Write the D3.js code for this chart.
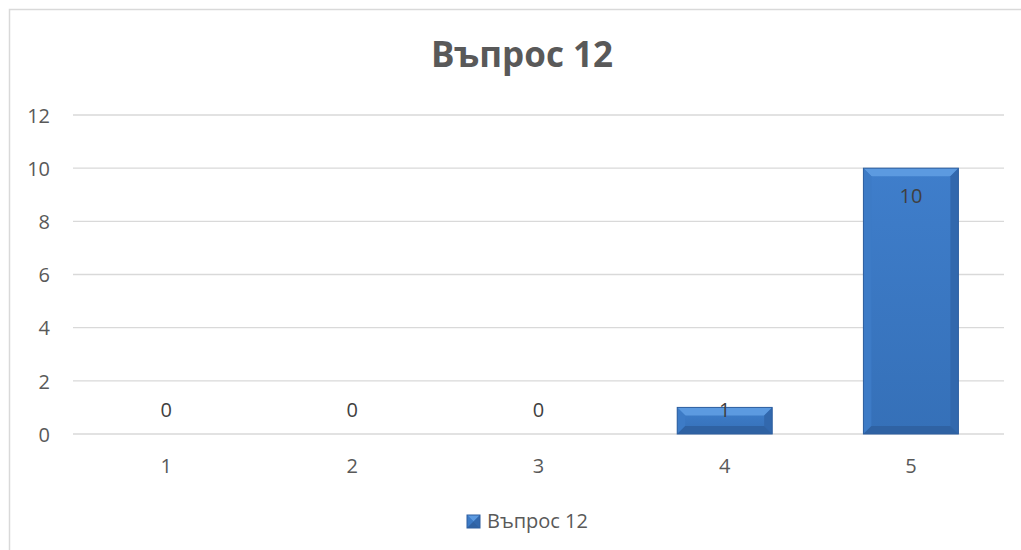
<!DOCTYPE html>
<html>
<head>
<meta charset="utf-8">
<script src="https://cdn.jsdelivr.net/npm/d3@7"></script>
<style>
  body { margin: 0; background: #fff; }
  text { font-family: "Open Sans", "Noto Sans", sans-serif; }
</style>
</head>
<body>
<div id="chart"></div>
<script>
var categories = ["1", "2", "3", "4", "5"];
var values = [0, 0, 0, 1, 10];
var yTicks = [0, 2, 4, 6, 8, 10, 12];
var seriesName = "Въпрос 12";
var title = "Въпрос 12";

var svgWidth = 1021;
var svgHeight = 550;
var margin = { top: 115, right: 17, bottom: 116, left: 73 };
var width = svgWidth - margin.left - margin.right;
var height = svgHeight - margin.top - margin.bottom;

var svg = d3.select("#chart")
  .append("svg")
  .attr("width", svgWidth)
  .attr("height", svgHeight);

// chart area border
svg.append("rect")
  .attr("x", 9.5).attr("y", 9.5)
  .attr("width", 1030).attr("height", 560)
  .attr("fill", "none")
  .attr("stroke", "#d9d9d9")
  .attr("stroke-width", 1.5);

var g = svg.append("g")
  .attr("transform", `translate(${margin.left}, ${margin.top})`);

var xScale = d3.scaleBand().domain(categories).range([0, width]).paddingInner(0.49).paddingOuter(0.245);
var yScale = d3.scaleLinear().domain([0, 12]).range([height, 0]);

// gridlines
g.selectAll(".grid")
  .data(yTicks)
  .enter()
  .append("line")
  .attr("x1", 0).attr("x2", width)
  .attr("y1", d => yScale(d)).attr("y2", d => yScale(d))
  .attr("stroke", "#d9d9d9")
  .attr("stroke-width", 1.3);

// y axis labels
var yAxis = d3.axisLeft(yScale).tickValues(yTicks).tickSize(0).tickPadding(23);
g.append("g").call(yAxis)
  .call(a => a.select(".domain").remove())
  .selectAll("text")
  .attr("font-size", 20)
  .attr("dy", "0.36em")
  .attr("fill", "#595959")
  .attr("font-family", "Open Sans, sans-serif");

// x axis labels
var xAxis = d3.axisBottom(xScale).tickSize(0);
g.append("g").attr("transform", `translate(0, ${height})`).call(xAxis)
  .call(a => a.select(".domain").remove())
  .selectAll("text")
  .attr("y", 39)
  .attr("dy", null)
  .attr("font-size", 20)
  .attr("fill", "#595959")
  .attr("font-family", "Open Sans, sans-serif");

// bars with a bevel look
var defs = svg.append("defs");
var grad = defs.append("linearGradient").attr("id", "barFill")
  .attr("x1", 0).attr("y1", 0).attr("x2", 0).attr("y2", 1);
grad.append("stop").attr("offset", "0%").attr("stop-color", "#3f7ecb");
grad.append("stop").attr("offset", "100%").attr("stop-color", "#3570b8");

function bevelBar(sel, x, y, w, h) {
  var b = Math.min(8, h / 2, w / 2);
  sel.append("rect").attr("x", x).attr("y", y).attr("width", w).attr("height", h)
    .attr("fill", "url(#barFill)");
  // top
  sel.append("polygon").attr("points", [[x, y], [x + w, y], [x + w - b, y + b], [x + b, y + b]].join(" "))
    .attr("fill", "#5c9ae0");
  // left
  sel.append("polygon").attr("points", [[x, y], [x + b, y + b], [x + b, y + h - b], [x, y + h]].join(" "))
    .attr("fill", "#3d7bc6");
  // right
  sel.append("polygon").attr("points", [[x + w, y], [x + w - b, y + b], [x + w - b, y + h - b], [x + w, y + h]].join(" "))
    .attr("fill", "#3268ad");
  // bottom
  sel.append("polygon").attr("points", [[x, y + h], [x + b, y + h - b], [x + w - b, y + h - b], [x + w, y + h]].join(" "))
    .attr("fill", "#2f62a3");
  sel.append("rect").attr("x", x).attr("y", y).attr("width", w).attr("height", h)
    .attr("fill", "none").attr("stroke", "#2e5f9f").attr("stroke-width", 1);
}

categories.forEach(function (c, i) {
  var v = values[i];
  if (v <= 0) return;
  var bg = g.append("g");
  bevelBar(bg, xScale(c), yScale(v), xScale.bandwidth(), yScale(0) - yScale(v));
});

// data labels (inside end, but never below the baseline slot)
g.selectAll(".lbl")
  .data(values)
  .enter()
  .append("text")
  .attr("x", (d, i) => xScale(categories[i]) + xScale.bandwidth() / 2)
  .attr("y", d => Math.min(yScale(d) + 35, yScale(0) - 17))
  .attr("text-anchor", "middle")
  .attr("font-size", 20)
  .attr("fill", "#404040")
  .text(d => d);

// title
svg.append("text")
  .attr("x", 522).attr("y", 67)
  .attr("text-anchor", "middle")
  .attr("font-size", 35)
  .attr("font-weight", "bold")
  .attr("fill", "#595959")
  .text(title);

// legend
var lg = svg.append("g").attr("transform", "translate(467, 515)");
var legendBox = lg.append("g");
bevelBar(legendBox, 0, 0, 13, 13);
lg.append("text")
  .attr("x", 20).attr("y", 13)
  .attr("font-size", 20)
  .attr("fill", "#595959")
  .text(seriesName);
</script>
</body>
</html>
